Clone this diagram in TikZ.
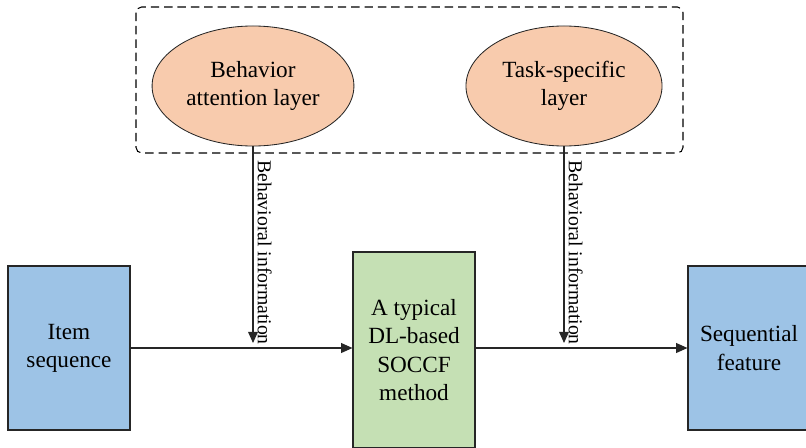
\documentclass[tikz,border=0pt]{standalone}
\usepackage{fontspec}
\setmainfont{Liberation Serif}
\usepackage{tikz}
\usetikzlibrary{shapes.geometric,arrows.meta}
\definecolor{peach}{HTML}{F8CBAD}
\definecolor{skyblue}{HTML}{9DC3E6}
\definecolor{palegreen}{HTML}{C5E0B4}
\definecolor{edge}{HTML}{262626}
\tikzset{
  layer/.style={ellipse, draw=edge, fill=peach, line width=0.6pt, minimum width=4.9cm, minimum height=3cm, align=center, font=\fontsize{16.5}{20}\selectfont},
  block/.style={rectangle, draw=edge, line width=0.8pt, minimum width=3.05cm, align=center, font=\fontsize{16.5}{20}\selectfont},
  group/.style={draw=black, dashed, dash pattern=on 6pt off 3.5pt, line width=0.75pt, rounded corners=4pt},
  info/.style={font=\fontsize{14}{16}\selectfont, rotate=-90, anchor=south, inner sep=3pt},
  flow/.style={-{Triangle[length=8pt,width=7pt]}, line width=0.8pt, draw=edge}
}

\begin{document}
\begin{tikzpicture}[x=0.025cm,y=-0.025cm]
\useasboundingbox (0,0) rectangle (806,447);
\clip (0,0) rectangle (806,447);
% upper layers
\draw[group] (136,7) rectangle (683,153);
\node[layer] (att) at (253,86) {Behavior\\attention layer};
\node[layer] (task) at (564,86) {Task-specific\\layer};

% main flow
\node[block, fill=skyblue, minimum height=4.1cm] (item) at (69,348) {Item\\sequence};
\node[block, fill=palegreen, minimum height=4.9cm] (soccf) at (414,350) {A typical\\DL-based\\SOCCF\\method};
\node[block, fill=skyblue, minimum height=4.1cm] (feat) at (749,348) {Sequential\\feature};
\draw[flow] (item) -- (soccf.west |- item);
\draw[flow] (soccf.east |- feat) -- (feat);

% behavioral information
\coordinate (hit1) at (253,343);
\coordinate (hit2) at (564,343);
\draw[flow] (att.south) -- node[info, pos=0.54] {Behavioral information} (hit1);
\draw[flow] (task.south) -- node[info, pos=0.54] {Behavioral information} (hit2);
\end{tikzpicture}
\end{document}
